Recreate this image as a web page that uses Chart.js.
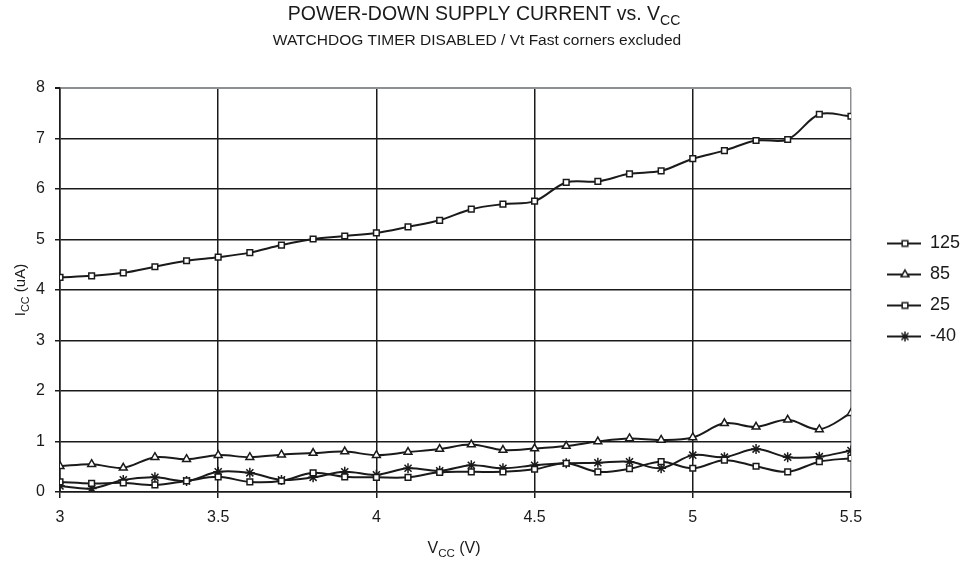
<!DOCTYPE html>
<html>
<head>
<meta charset="utf-8">
<script src="https://cdn.jsdelivr.net/npm/chart.js@4.4.0/dist/chart.umd.min.js"></script>
<style>
html, body { margin: 0; padding: 0; background: #fff; }
#wrap { width: 973px; height: 564px; }
</style>
</head>
<body>
<div id="wrap"><canvas id="chart" width="973" height="564"></canvas></div>
<script>
// supply voltage (V) for every sample
const vcc = [3.0, 3.1, 3.2, 3.3, 3.4, 3.5, 3.6, 3.7, 3.8, 3.9, 4.0, 4.1, 4.2,
             4.3, 4.4, 4.5, 4.6, 4.7, 4.8, 4.9, 5.0, 5.1, 5.2, 5.3, 5.4, 5.5];

// power-down current (uA), one list per temperature
const icc_125 = [4.25, 4.28, 4.34, 4.46, 4.58, 4.65, 4.74, 4.89, 5.01, 5.07, 5.13, 5.25, 5.38,
                 5.60, 5.70, 5.76, 6.13, 6.15, 6.30, 6.36, 6.60, 6.76, 6.96, 6.98, 7.48, 7.44];
const icc_85 = [0.51, 0.55, 0.48, 0.69, 0.65, 0.73, 0.69, 0.74, 0.77, 0.80, 0.73, 0.79, 0.85,
                0.94, 0.83, 0.86, 0.91, 1.00, 1.06, 1.03, 1.08, 1.36, 1.29, 1.43, 1.24, 1.56];
const icc_25 = [0.20, 0.17, 0.18, 0.14, 0.22, 0.30, 0.20, 0.22, 0.38, 0.30, 0.29, 0.29, 0.39,
                0.40, 0.40, 0.45, 0.57, 0.40, 0.46, 0.60, 0.47, 0.63, 0.51, 0.40, 0.60, 0.67];
const icc_m40 = [0.12, 0.07, 0.24, 0.29, 0.22, 0.40, 0.38, 0.24, 0.29, 0.40, 0.34, 0.47, 0.42,
                 0.53, 0.47, 0.53, 0.57, 0.58, 0.60, 0.47, 0.73, 0.69, 0.85, 0.69, 0.70, 0.82];

const series_names = ['125', '85', '25', '-40'];
const series_values = [icc_125, icc_85, icc_25, icc_m40];
const series_markers = ['rect', 'triangle', 'rect', 'star'];

const x_ticks = [3, 3.5, 4, 4.5, 5, 5.5];
const y_ticks = [0, 1, 2, 3, 4, 5, 6, 7, 8];

const ink = '#1a1a1a';
const frame_grey = '#8c8f94';
const font_family = '"Liberation Sans", Arial, sans-serif';

Chart.defaults.font.family = font_family;
Chart.defaults.color = ink;

function marker_radius(style) {
    if (style === 'triangle') return 4.5;
    if (style === 'star') return 5;
    return 4;
}

// small picture used in the legend: a line with the marker in the middle
function make_icon(style) {
    const c = document.createElement('canvas');
    c.width = 57;
    c.height = 14;
    const g = c.getContext('2d');
    g.strokeStyle = ink;
    g.lineWidth = 2;
    g.beginPath();
    g.moveTo(23, 7);
    g.lineTo(57, 7);
    g.stroke();
    g.fillStyle = '#fff';
    g.lineWidth = 1.5;
    Chart.helpers.drawPoint(g, {pointStyle: style, radius: marker_radius(style), borderWidth: 1.5, rotation: 0}, 41, 7);
    return c;
}

const legend_icons = series_markers.map(make_icon);

function draw_sub_text(ctx, parts, cx, y, size) {
    const sub_size = size * 0.72;
    let total = 0;
    for (const [text, sub] of parts) {
        ctx.font = `${sub ? sub_size : size}px ${font_family}`;
        total += ctx.measureText(text).width;
    }
    let x = cx - total / 2;
    for (const [text, sub] of parts) {
        ctx.font = `${sub ? sub_size : size}px ${font_family}`;
        ctx.fillText(text, x, sub ? y + size * 0.28 : y);
        x += ctx.measureText(text).width;
    }
}

const text_plugin = {
    id: 'texts',
    afterDraw(chart) {
        const ctx = chart.ctx;
        ctx.save();
        ctx.fillStyle = ink;
        ctx.textAlign = 'left';
        ctx.textBaseline = 'alphabetic';
        draw_sub_text(ctx, [['POWER-DOWN SUPPLY CURRENT vs. V', false], ['CC', true]], 484, 20, 19.5);
        draw_sub_text(ctx, [['WATCHDOG TIMER DISABLED / Vt Fast corners excluded', false]], 477, 45, 15.5);
        draw_sub_text(ctx, [['V', false], ['CC', true], [' (V)', false]], 454, 553, 16);
        ctx.translate(25, 290);
        ctx.rotate(-Math.PI / 2);
        draw_sub_text(ctx, [['I', false], ['CC', true], [' (uA)', false]], 0, 0, 15);
        ctx.restore();
    }
};

const datasets = series_names.map((name, i) => ({
    label: name,
    data: vcc.map((v, j) => ({x: v, y: series_values[i][j]})),
    borderColor: ink,
    borderWidth: 2,
    tension: 0.35,
    pointStyle: series_markers[i],
    pointRadius: marker_radius(series_markers[i]),
    pointBackgroundColor: '#fff',
    pointBorderColor: ink,
    pointBorderWidth: 1.5,
}));

new Chart(document.getElementById('chart'), {
    type: 'line',
    data: {datasets: datasets},
    plugins: [text_plugin],
    options: {
        responsive: false,
        animation: false,
        devicePixelRatio: 1,
        layout: {padding: {top: 88, right: 3, bottom: 0, left: 0}},
        plugins: {
            title: {display: false},
            tooltip: {enabled: false},
            legend: {
                position: 'right',
                fullSize: false,
                labels: {
                    usePointStyle: true,
                    pointStyleWidth: 57,
                    padding: 13,
                    color: ink,
                    font: {size: 18},
                    generateLabels: chart =>
                        Chart.defaults.plugins.legend.labels.generateLabels(chart)
                            .map((item, i) => ({...item, pointStyle: legend_icons[i]}))
                }
            }
        },
        scales: {
            x: {
                type: 'linear',
                min: 3,
                max: 5.5,
                afterBuildTicks: scale => { scale.ticks = x_ticks.map(v => ({value: v})); },
                afterFit: scale => { scale.height = 72; },
                ticks: {
                    callback: v => String(v),
                    font: {size: 16},
                    color: ink,
                    padding: 10,
                    maxRotation: 0
                },
                grid: {
                    color: c => c.tick && c.tick.value === 5.5 ? frame_grey : ink,
                    lineWidth: 1.5,
                    tickLength: 6,
                    tickColor: ink
                },
                border: {color: ink, width: 1.5}
            },
            y: {
                min: 0,
                max: 8,
                afterBuildTicks: scale => { scale.ticks = y_ticks.map(v => ({value: v})); },
                afterFit: scale => { scale.width = 60; },
                ticks: {
                    font: {size: 16},
                    color: ink,
                    padding: 10
                },
                grid: {
                    color: c => c.tick && c.tick.value === 8 ? frame_grey : ink,
                    lineWidth: c => c.tick && c.tick.value === 8 ? 2 : 1.5,
                    tickLength: 5,
                    tickColor: ink
                },
                border: {color: ink, width: 1.5}
            }
        }
    }
});
</script>
</body>
</html>
